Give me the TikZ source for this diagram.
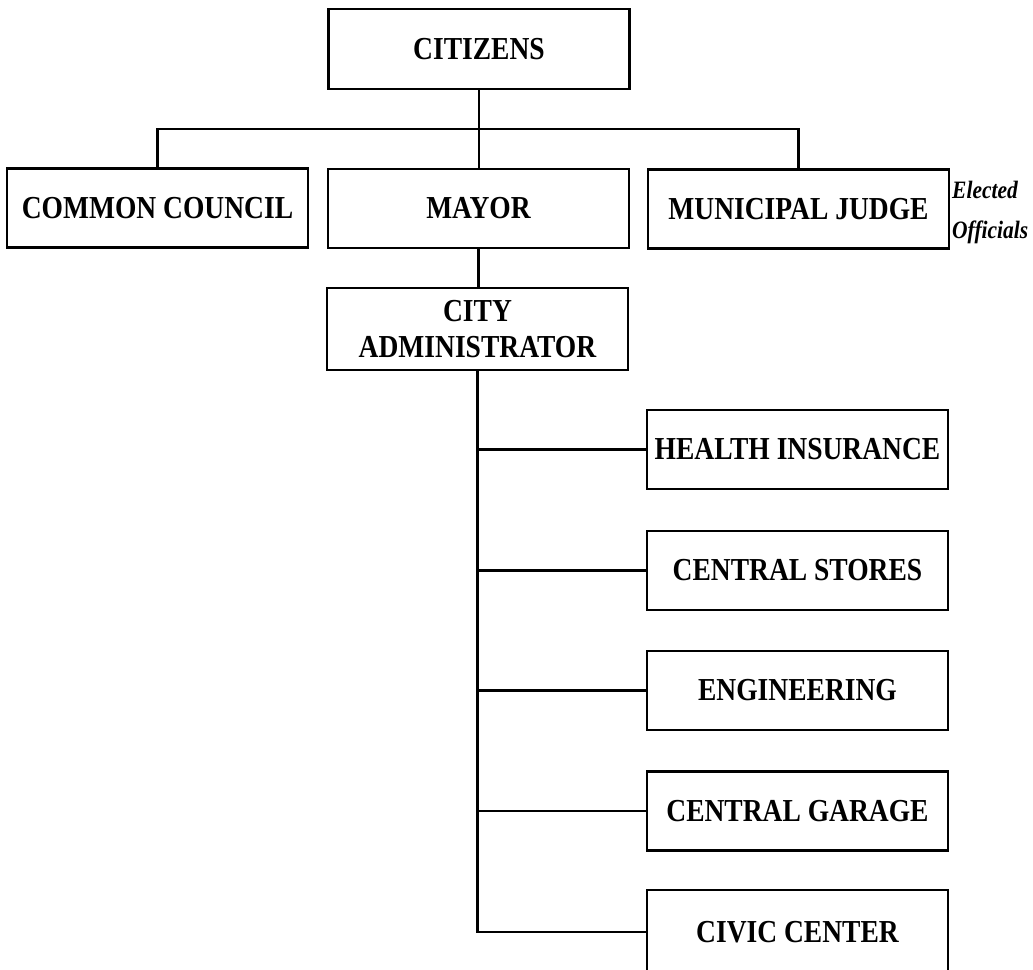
\documentclass[tikz,border=0pt]{standalone}
\usepackage{fontspec}
\setmainfont[FakeStretch=0.86]{Liberation Serif}
\newfontfamily\elfont[FakeStretch=0.86]{Liberation Serif}
\begin{document}
\begin{tikzpicture}[x=1pt,y=-1pt,
  box/.style={draw, line width=2.4pt, inner sep=0pt, minimum width=301pt, minimum height=79pt,
    font=\fontsize{32}{36}\selectfont\bfseries, align=center},
  conn/.style={line width=2.2pt},
  elect/.style={anchor=base west, inner sep=0pt, font=\elfont\fontsize{25}{28}\selectfont\bfseries\itshape}]
\useasboundingbox (0,0) rectangle (1033,969);
\clip (0,0) rectangle (1033,969);
\node[box] (cit) at (479,49) [minimum height=80pt] {CITIZENS};
\node[box] (cc) at (157.5,208) {COMMON COUNCIL};
\node[box] (mayor) at (478.5,208.5) {MAYOR};
\node[box] (mj) at (798.5,209) {MUNICIPAL JUDGE};
\node[elect] (el1) at (952,198) {Elected};
\node[elect] (el2) at (952,238) {Officials};
\node[box] (ca) at (477.5,329) [minimum height=82pt] {CITY\\ADMINISTRATOR};
\node[box] (hi) at (797.5,449.5) {HEALTH INSURANCE};
\node[box] (cs) at (797.5,570.5) {CENTRAL STORES};
\node[box] (eng) at (797.5,690.5) {ENGINEERING};
\node[box] (cg) at (797.5,811) {CENTRAL GARAGE};
\node[box] (civ) at (797.5,932) [minimum height=84pt] {CIVIC CENTER};
\coordinate (bar) at (479,129);
\coordinate (trunk) at (477,932);
% top distribution
\draw[conn] (cit.south) -- (cit.south |- mayor.north);
\draw[conn] (cc.north) -- (cc.north |- bar) -- (mj.north |- bar) -- (mj.north);
\draw[conn] (mayor.south) -- (mayor.south |- ca.north);
% administrator trunk
\draw[conn] (ca.south) -- (ca.south |- trunk) -- (civ.west);
\draw[conn] (ca.south |- hi.west) -- (hi.west);
\draw[conn] (ca.south |- cs.west) -- (cs.west);
\draw[conn] (ca.south |- eng.west) -- (eng.west);
\draw[conn] (ca.south |- cg.west) -- (cg.west);
\end{tikzpicture}
\end{document}
